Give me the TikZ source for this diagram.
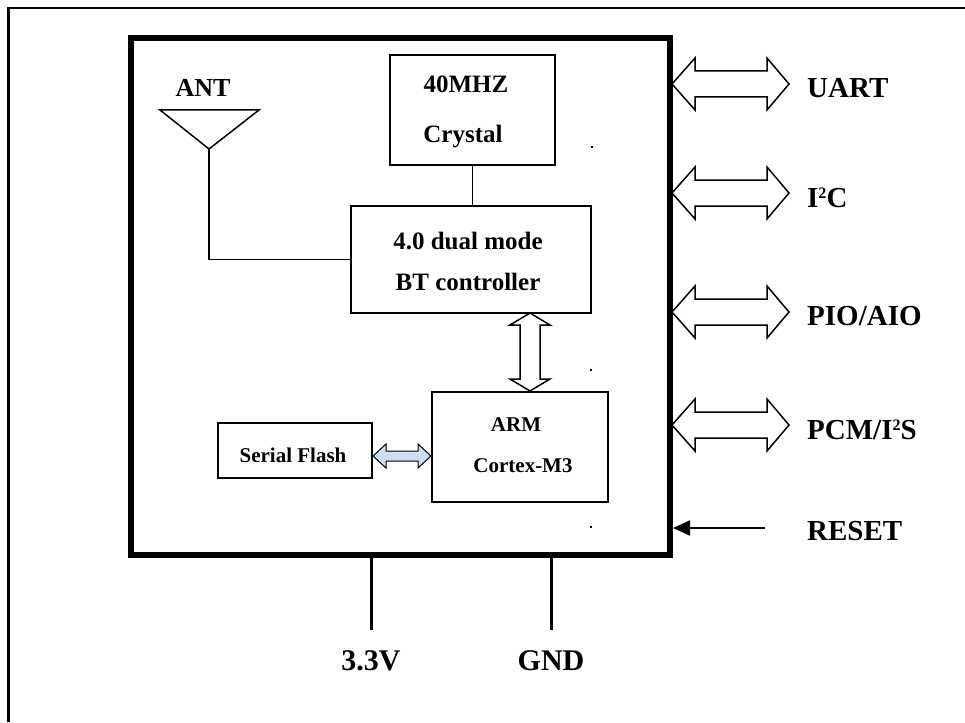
\documentclass[tikz,border=0pt]{standalone}
\usepackage{fontspec}
\setmainfont{Liberation Serif}
\usetikzlibrary{arrows.meta}
\tikzset{
  blk/.style={draw, line width=1.5pt, minimum width=#1, inner sep=0pt},
  txt/.style={font=\bfseries\fontsize{25}{30}\selectfont, anchor=base, inner sep=0pt},
  stxt/.style={font=\bfseries\fontsize{21}{25}\selectfont, anchor=base, inner sep=0pt},
  lbl/.style={font=\bfseries\fontsize{29}{34}\selectfont, anchor=base west, inner sep=0pt},
  blbl/.style={font=\bfseries\fontsize{30}{34}\selectfont, anchor=base, inner sep=0pt},
  fatarrow/.style={draw, line width=1.5pt, fill=white, line join=miter},
  thin/.style={line width=1.5pt},
  pin/.style={line width=3pt},
  dotm/.style={fill=black, minimum size=2.5pt, inner sep=0pt}
}
\newcommand\mysup[1]{\raisebox{9pt}{\fontsize{16}{16}\selectfont #1}}
\newcommand\myharrow[1]{\draw[fatarrow] (672,#1) -- (695,#1-26) -- (695,#1-13) -- (767,#1-13) -- (767,#1-26) -- (789,#1) -- (767,#1+26) -- (767,#1+13) -- (695,#1+13) -- (695,#1+26) -- cycle;}
\begin{document}
\begin{tikzpicture}[x=1pt,y=-1pt]
\useasboundingbox (0,0) rectangle (965,722);
% outer frame (cut off)
\draw[line width=2.5pt] (8.5,722) -- (8.5,8) -- (965,8);
% main module box
\node[draw, line width=6pt, minimum width=539pt, minimum height=516pt, inner sep=0pt] (mainbox) at (400.5,296.5) {};
% crystal
\node[blk=165pt, minimum height=110pt] (crystal) at (472.5,110) {};
\node[txt] (t40) at (466,93) {40MHZ};
\node[txt] (tcr) at (463,143) {Crystal};
% BT controller
\node[blk=240pt, minimum height=107pt] (bt) at (471,259.5) {};
\node[txt] (tbt1) at (468,249) {4.0 dual mode};
\node[txt] (tbt2) at (468,290) {BT controller};
\draw[thin] (crystal.south) -- (crystal.south |- bt.north);
% antenna
\node[font=\bfseries\fontsize{26}{30}\selectfont, anchor=base, inner sep=0pt] (ant) at (203,97) {ANT};
\coordinate (apex) at (209,149);
\draw[thin, line join=miter] (160,110) -- (259,110) -- (apex) -- cycle;
\draw[thin] (apex) |- (bt.west);
% ARM
\node[blk=176pt, minimum height=110pt] (arm) at (520,447) {};
\node[stxt] (tarm) at (516,431) {ARM};
\node[stxt] (tcm) at (523,472) {Cortex-M3};
% Serial flash
\node[blk=154pt, minimum height=55pt] (flash) at (295,450.5) {};
\node[stxt] (tfl) at (293,462) {Serial Flash};
% BT <-> ARM fat arrow
\draw[fatarrow] (530,313) -- (550,325) -- (540,325) -- (540,379) -- (550,379) -- (530,391) -- (510,379) -- (520,379) -- (520,325) -- (510,325) -- cycle;
% Flash <-> ARM small arrow
\draw[draw=black, line width=1pt, fill={rgb,255:red,205;green,222;blue,240}, line join=miter]
  (373,456) -- (386,444) -- (386,451) -- (418,451) -- (418,444) -- (431,456) -- (418,468) -- (418,461) -- (386,461) -- (386,468) -- cycle;
% right interfaces
\myharrow{84}
\myharrow{193}
\myharrow{312}
\myharrow{425}
\node[lbl] (luart) at (807,98) {UART};
\node[lbl] (li2c) at (807,207) {I\mysup{2}C};
\node[lbl] (lpio) at (807,325) {PIO/AIO};
\node[lbl] (lpcm) at (807,439) {PCM/I\mysup{2}S};
\node[lbl] (lrst) at (807,540) {RESET};
\coordinate (rstS) at (765,528);
\coordinate (rstE) at (673,528);
\draw[line width=2pt, -{Triangle[length=17pt,width=15pt]}] (rstS) -- (rstE);
% power pins
\coordinate (p33) at (371,630);
\coordinate (pgnd) at (551,630);
\draw[pin] (mainbox.south -| p33) -- (p33);
\draw[pin] (mainbox.south -| pgnd) -- (pgnd);
\node[blbl] (l33) at (371,670) {3.3V};
\node[blbl] (lgnd) at (551,670) {GND};
% stray dots
\node[dotm] (d1) at (592,147) {};
\node[dotm] (d2) at (591,370) {};
\node[dotm] (d3) at (591,527) {};
\end{tikzpicture}
\end{document}
